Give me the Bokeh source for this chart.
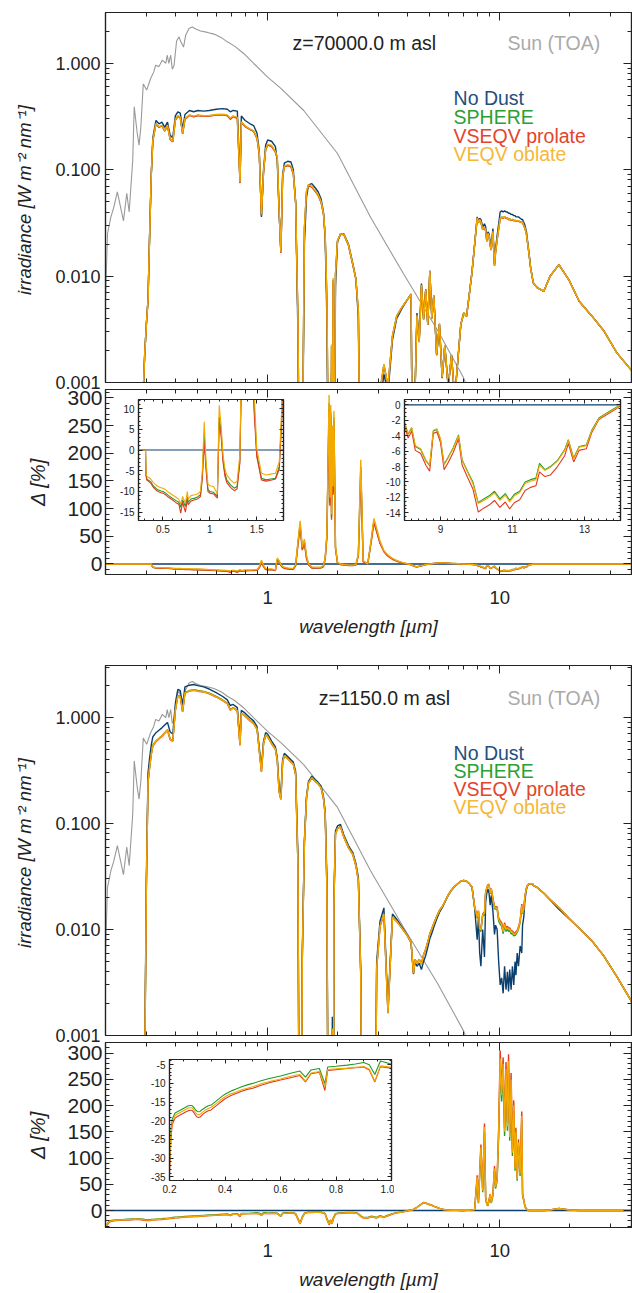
import numpy as np
from bokeh.plotting import figure
from bokeh.layouts import column
from bokeh.models import (FixedTicker, PrintfTickFormatter, CustomJSTickFormatter,
                          LinearAxis, LogAxis, Label, Range1d)
from bokeh.embed import file_html
from bokeh.resources import INLINE

# ---------------- data ----------------
wavelength_um = [
    0.200, 0.203, 0.206, 0.210, 0.220, 0.230, 0.240, 0.250, 0.260, 0.268,
    0.275, 0.280, 0.285, 0.290, 0.295, 0.300, 0.305, 0.310, 0.315, 0.320,
    0.330, 0.340, 0.350, 0.360, 0.370, 0.380, 0.390, 0.400, 0.410, 0.420,
    0.430, 0.440, 0.460, 0.480, 0.500, 0.530, 0.560, 0.600, 0.640, 0.670,
    0.690, 0.710, 0.740, 0.760, 0.770, 0.800, 0.840, 0.870, 0.900, 0.920,
    0.940, 0.960, 0.980, 1.000, 1.040, 1.080, 1.100, 1.120, 1.140, 1.160,
    1.180, 1.220, 1.260, 1.290, 1.320, 1.350, 1.380, 1.410, 1.440, 1.470,
    1.500, 1.550, 1.600, 1.650, 1.700, 1.740, 1.770, 1.800, 1.840, 1.855,
    1.870, 1.885, 1.900, 1.915, 1.930, 1.960, 2.000, 2.060, 2.130, 2.230,
    2.330, 2.400, 2.460, 2.520, 2.580, 2.700, 2.800, 2.870, 2.950, 3.050,
    3.170, 3.300, 3.450, 3.600, 3.800, 4.000, 4.150, 4.250, 4.320, 4.400,
    4.500, 4.600, 4.700, 4.800, 4.900, 5.000, 5.100, 5.200, 5.350, 5.500,
    5.650, 5.800, 6.000, 6.200, 6.400, 6.600, 6.800, 7.000, 7.200, 7.400,
    7.600, 7.800,
    8.000, 8.100, 8.200, 8.300, 8.450, 8.600, 8.700, 8.800, 8.900, 9.000,
    9.100, 9.200, 9.350, 9.500, 9.600, 9.750, 9.900, 10.05, 10.20, 10.35,
    10.50, 10.65, 10.80, 10.92, 11.05, 11.20, 11.35, 11.50, 11.65, 11.75,
    11.90, 12.05, 12.25, 12.45, 12.55, 12.70, 12.85, 13.05, 13.20, 13.40,
    13.60, 13.85, 14.00, 14.50, 15.50, 16.50, 18.00, 20.00, 22.00, 25.00,
    28.00, 32.00, 37.00]

sun_wl = [0.200, 0.204, 0.211, 0.217, 0.225, 0.232, 0.239, 0.247, 0.253, 0.262,
          0.266, 0.274, 0.279, 0.284, 0.291, 0.301, 0.313, 0.323, 0.329, 0.340,
          0.351, 0.364, 0.369, 0.375, 0.382, 0.388, 0.395, 0.405, 0.415, 0.422,
          0.434, 0.443, 0.458, 0.473, 0.490, 0.514, 0.550, 0.587, 0.630, 0.670,
          0.720, 0.790, 0.873, 1.000, 1.140, 1.430, 2.000, 2.780, 3.850, 5.400,
          7.000, 7.400]
sun_toa = [0.006, 0.025, 0.036, 0.044, 0.062, 0.045, 0.033, 0.060, 0.040, 0.122,
           0.39, 0.22, 0.17, 0.25, 0.64, 0.56, 0.72, 0.83, 0.96, 0.93,
           1.07, 1.00, 1.19, 1.00, 1.19, 0.88, 0.96, 1.62, 1.77, 1.60,
           1.42, 1.83, 2.12, 2.19, 2.10, 2.01, 1.95, 1.88, 1.75, 1.59,
           1.45, 1.23, 0.99, 0.74, 0.58, 0.36, 0.142, 0.0356, 0.0105, 0.0031,
           0.0011, 0.0008]

# z = 70000 m : No Dust irradiance [W m-2 nm-1]
nodust_70km = [
    1e-6, 1e-6, 1e-6, 1e-6, 1e-6, 1e-6, 1e-6, 1e-6, 1e-6, 1e-6,
    1e-6, 1e-6, 1e-5, 7e-4, 0.0018, 0.0035, 0.006, 0.025, 0.09, 0.20,
    0.29, 0.27, 0.28, 0.25, 0.28, 0.21, 0.20, 0.32, 0.35, 0.34,
    0.24, 0.33, 0.36, 0.35, 0.36, 0.355, 0.36, 0.37, 0.375, 0.37,
    0.35, 0.36, 0.355, 0.085, 0.32, 0.29, 0.27, 0.26, 0.22, 0.15,
    0.036, 0.10, 0.17, 0.19, 0.185, 0.165, 0.12, 0.04, 0.017, 0.09,
    0.115, 0.12, 0.118, 0.10, 0.05, 0.003, 1e-5, 1e-4, 0.02, 0.055,
    0.072, 0.074, 0.068, 0.062, 0.053, 0.04, 0.022, 0.004, 1e-5, 1e-5,
    1e-5, 0.0012, 1e-5, 0.004, 1e-5, 0.008, 0.021, 0.025, 0.025, 0.02,
    0.013, 0.0095, 0.004, 1e-5, 1e-6, 1e-6, 1e-6, 1e-6, 1e-6, 6e-4,
    0.0012, 8e-4, 0.0025, 0.004, 0.005, 0.006, 0.0068, 1e-5, 0.0009, 0.0045,
    0.0025, 0.0085, 0.004, 0.0075, 0.0035, 0.0112, 0.004, 0.0065, 0.0018, 0.0035,
    0.0011, 0.0022, 0.0009, 0.0018, 0.0007, 0.0016, 0.0035, 0.0045, 0.0042, 0.0068,
    0.011, 0.02,
    0.036, 0.033, 0.035, 0.034, 0.029, 0.031, 0.029, 0.022, 0.026, 0.025,
    0.021, 0.019, 0.028, 0.013, 0.018, 0.024, 0.031, 0.040, 0.041, 0.040,
    0.041, 0.040, 0.040, 0.039, 0.039, 0.038, 0.038, 0.037, 0.037, 0.036,
    0.036, 0.036, 0.035, 0.034, 0.034, 0.032, 0.030, 0.026, 0.021, 0.016,
    0.012, 0.0095, 0.0085, 0.0078, 0.0072, 0.0100, 0.0128, 0.0090, 0.0058, 0.0042,
    0.0031, 0.0019, 0.0013]

# z = 70000 m : relative difference to No Dust [%]
delta_sphere_70km = [
    0, 0, 0, 0, 0, 0, 0, 0, 0, 0,
    0, 0, 0, 0, 0, 0, 0, 0, 0, -6.0,
    -7.1, -7.2, -7.3, -7.5, -7.7, -8.0, -8.4, -8.7, -8.9, -9.1,
    -9.3, -9.5, -9.7, -9.9, -10.0, -10.4, -11.0, -11.6, -12.2, -12.6,
    -13.8, -12.0, -13.6, -11.2, -12.6, -11.8, -11.6, -11.3, -10.8, -6.2,
    4.0, -4.0, -9.5, -10.0, -10.2, -11.2, 8.0, 4.5, -2.0, -5.5,
    -7.2, -8.4, -9.2, -8.8, -2.5, 36, 72, 27, 40, 12,
    -1.0, -6.8, -7.2, -7.0, -6.8, -4.0, 10, 50, 290, 110,
    275, 85, 240, 130, 265, 30, 2, -0.5, -1.5, -2.5,
    -2.5, -1.5, 16, 175, 5, 0, 44, 78, 60, 39,
    23, 15, 9, 5.5, 2.5, 0.3, -1.2, -3.2, -4.2, -5.3,
    -4, -3, -2, -1, -0.5, 0, 0.5, 1, 1.5, 2,
    2, 2, 1.5, 1, 0.8, 0.5, 0.2, 0, -0.2, -0.5,
    -0.8, -1.2,
    -2.3, -3.8, -3.0, -5.4, -5.8, -7.3, -7.9, -3.4, -3.2, -4.5,
    -7.7, -6.9, -5.6, -3.9, -7.1, -8.6, -10.0, -12.7, -12.2, -11.8,
    -11.2, -12.2, -11.5, -12.4, -11.6, -11.2, -10.0, -9.7, -9.5, -7.6,
    -8.4, -8.0, -7.2, -5.8, -4.5, -6.9, -5.4, -5.2, -3.3, -1.7,
    -1.1, -0.4, 0, 0, 0, 0, 0, 0, 0, 0,
    0, 0, 0]
delta_prolate_70km = [
    0, 0, 0, 0, 0, 0, 0, 0, 0, 0,
    0, 0, 0, 0, 0, 0, 0, 0, 0, -6.2,
    -7.3, -7.4, -7.6, -7.8, -8.0, -8.3, -8.7, -9.0, -9.3, -9.5,
    -9.7, -9.9, -10.1, -10.3, -10.4, -10.8, -11.4, -12.0, -12.7, -13.1,
    -15.2, -12.6, -15.0, -12.0, -13.2, -12.3, -12.0, -11.8, -11.2, -7.0,
    2.0, -4.8, -10.0, -10.4, -10.6, -11.6, 6.8, 3.5, -2.8, -6.2,
    -7.8, -9.0, -9.8, -9.4, -3.2, 34, 68, 25, 38, 10,
    -1.6, -7.2, -7.5, -7.3, -7.0, -4.6, 9, 48, 280, 105,
    268, 80, 232, 125, 258, 28, 1.5, -1, -2, -3,
    -3, -2, 15, 168, 4, 0, 42, 75, 58, 37,
    22, 14, 8.5, 5, 2, 0, -1.5, -3.5, -4.5, -5.6,
    -4.3, -3.5, -2.3, -1.2, -0.7, -0.2, 0.3, 0.8, 1.3, 1.8,
    1.8, 1.8, 1.3, 0.8, 0.6, 0.3, 0, -0.2, -0.4, -0.7,
    -1.0, -1.5,
    -2.6, -4.3, -3.4, -5.9, -6.3, -7.9, -8.6, -3.7, -3.5, -4.9,
    -8.4, -7.6, -6.2, -4.4, -7.8, -9.4, -10.9, -13.9, -13.4, -13.0,
    -12.4, -13.3, -12.6, -13.5, -12.7, -12.3, -11.1, -10.7, -10.5, -8.7,
    -9.3, -9.1, -8.0, -6.6, -5.0, -7.4, -5.9, -5.7, -3.6, -1.9,
    -1.3, -0.6, -0.1, 0, 0, 0, 0, 0, 0, 0,
    0, 0, 0]
delta_oblate_70km = [
    0, 0, 0, 0, 0, 0, 0, 0, 0, 0,
    0, 0, 0, 0, 0, 0, 0, 0, 0, -5.5,
    -6.4, -6.5, -6.6, -6.8, -7.0, -7.3, -7.6, -7.9, -8.1, -8.3,
    -8.5, -8.7, -8.9, -9.1, -9.2, -9.6, -10.2, -10.8, -11.4, -11.9,
    -13.0, -11.2, -12.8, -10.0, -11.8, -11.0, -10.8, -10.6, -10.0, -5.0,
    6.8, -2.8, -8.2, -8.6, -8.8, -10.6, 10.8, 6.0, -1.0, -4.4,
    -6.0, -7.2, -8.0, -7.6, -1.2, 40, 78, 30, 45, 15,
    0.4, -5.6, -6.0, -5.8, -5.6, -2.8, 12, 55, 305, 120,
    287, 90, 250, 140, 276, 32, 3, 0, -1, -2,
    -2, -1, 18, 188, 6, 0, 47, 82, 64, 41,
    24, 16, 10, 6, 3, 0.5, -1, -3, -4, -5,
    -4, -3, -2, -1, -0.5, 0, 0.5, 1, 1.5, 2,
    2, 2, 1.5, 1, 0.8, 0.5, 0.2, 0, -0.2, -0.5,
    -0.8, -1.2,
    -2.2, -3.7, -2.9, -5.3, -5.7, -7.2, -7.8, -3.3, -3.1, -4.4,
    -7.8, -7.0, -5.7, -4.0, -7.2, -8.7, -10.2, -12.8, -12.4, -12.0,
    -11.4, -12.4, -11.7, -12.6, -11.8, -11.4, -10.2, -9.9, -9.7, -7.8,
    -8.5, -8.1, -7.3, -5.9, -4.6, -7.0, -5.5, -5.3, -3.4, -1.8,
    -1.2, -0.5, 0, 0, 0, 0, 0, 0, 0, 0,
    0, 0, 0]

# z = 1150 m : No Dust irradiance [W m-2 nm-1]
nodust_1150m = [
    1e-6, 1e-6, 1e-6, 1e-6, 1e-6, 1e-6, 1e-6, 1e-6, 1e-6, 1e-6,
    1e-6, 1e-6, 1e-6, 1e-5, 5e-4, 0.03, 0.30, 0.42, 0.55, 0.66,
    0.72, 0.76, 0.80, 0.85, 0.90, 0.73, 0.70, 1.35, 1.85, 1.80,
    1.30, 1.95, 2.02, 2.05, 2.00, 1.95, 1.86, 1.72, 1.58, 1.47,
    1.30, 1.33, 1.24, 0.62, 1.17, 1.10, 0.99, 0.93, 0.82, 0.52,
    0.34, 0.60, 0.72, 0.70, 0.60, 0.53, 0.42, 0.22, 0.19, 0.40,
    0.46, 0.43, 0.40, 0.38, 0.31, 0.05, 1e-6, 0.006, 0.07, 0.18,
    0.25, 0.28, 0.26, 0.245, 0.225, 0.18, 0.13, 0.03, 1e-6, 1e-6,
    1e-6, 1e-6, 0.0015, 1e-6, 0.02, 0.085, 0.095, 0.098, 0.078, 0.062,
    0.053, 0.042, 0.031, 0.004, 1e-6, 1e-6, 1e-6, 1e-6, 0.005, 0.012,
    0.016, 0.0018, 0.014, 0.0125, 0.0105, 0.0088, 0.0075, 0.0038, 0.005, 0.0045,
    0.0048, 0.0042, 0.005, 0.0057, 0.0068, 0.0082, 0.0092, 0.0105, 0.0125, 0.0145,
    0.016, 0.018, 0.021, 0.0235, 0.0255, 0.027, 0.0285, 0.029, 0.0285, 0.027,
    0.025, 0.016,
    0.008, 0.013, 0.006, 0.0045, 0.010, 0.0055, 0.018, 0.022, 0.024, 0.022,
    0.017, 0.021, 0.015, 0.009, 0.011, 0.010, 0.005, 0.003, 0.0035, 0.0025,
    0.0045, 0.0027, 0.0040, 0.0026, 0.0042, 0.0027, 0.0045, 0.0030, 0.0050, 0.0037,
    0.0060, 0.0045, 0.0070, 0.0060, 0.011, 0.013, 0.019, 0.024, 0.026, 0.027,
    0.027, 0.027, 0.026, 0.025, 0.022, 0.019, 0.0155, 0.0125, 0.0103, 0.0078,
    0.0057, 0.0036, 0.0021]

delta_sphere_1150m = [
    -31.4, -26.0, -22.0, -19.5, -17.9, -17.5, -17.1, -16.7, -16.3, -16.0,
    -15.9, -15.9, -16.2, -16.7, -17.2, -17.5, -17.6, -17.5, -17.2, -16.9,
    -16.4, -16.0, -15.8, -15.2, -14.6, -14.0, -13.4, -12.9, -12.5, -12.1,
    -11.8, -11.5, -10.9, -10.4, -10.0, -9.3, -8.7, -8.0, -7.2, -6.7,
    -8.3, -6.4, -6.0, -10.1, -5.6, -5.4, -5.1, -4.8, -4.4, -5.0,
    -7.6, -4.0, -4.4, -4.9, -4.7, -4.5, -5.0, -8.0, -10.0, -5.0,
    -4.3, -4.2, -4.0, -4.0, -6.0, -15, -24, -12, -5.0, -3.5,
    -3.0, -3.0, -2.8, -2.7, -3.0, -4.0, -6.0, -15, -25, -20,
    -18, -24, -22, -15, -12, -6.0, -5.0, -4.5, -4.0, -3.8,
    -3.6, -4.0, -6.0, -10, -13, -13, -11, -12, -13, -10,
    -12, -9, -6, -4, -2.5, -0.5, 1, 2, 4, 6,
    9, 12, 15, 14, 12, 11, 10, 8, 6, 4,
    2.5, 1.5, 1, 0.5, 0.3, 0.2, 0.1, 0, 0.2, 0.5,
    1, 2,
    60, 14, 66, 112, 35, 150, 23, 11, 9, 19,
    28, 14, 28, 75, 42, 56, 140, 275, 208, 265,
    142, 255, 152, 270, 133, 237, 104, 190, 76, 142,
    57, 123, 66, 171, 28, 19, 7.5, 2.8, 1, 0,
    0, 0, 0, 0, 0, 1, 4, 1, 0, 0,
    0, 0, 0]
delta_prolate_1150m = [
    -34.1, -28.5, -24.0, -21.0, -19.3, -18.8, -18.4, -18.0, -17.6, -17.3,
    -17.2, -17.2, -17.5, -18.1, -18.6, -19.0, -19.1, -19.0, -18.7, -18.3,
    -17.7, -17.3, -17.1, -16.5, -15.9, -15.3, -14.7, -14.1, -13.7, -13.3,
    -13.0, -12.7, -12.1, -11.6, -11.3, -10.5, -9.8, -9.1, -8.4, -7.9,
    -9.6, -7.4, -7.0, -11.9, -6.5, -6.3, -6.0, -5.8, -5.6, -6.4,
    -9.6, -5.5, -5.7, -5.9, -5.6, -5.4, -5.9, -9.1, -11.3, -5.9,
    -5.1, -5.0, -4.8, -4.8, -7.0, -16.5, -25.5, -13.5, -5.8, -4.2,
    -3.7, -3.7, -3.5, -3.4, -3.7, -4.8, -6.9, -16.5, -27, -22,
    -19.5, -25.5, -23.5, -16.5, -13.5, -6.9, -5.7, -5.2, -4.7, -4.5,
    -4.3, -4.7, -6.9, -11.2, -14.2, -14.2, -12.2, -13.2, -14.2, -11.2,
    -13.2, -10, -6.8, -4.6, -3.0, -0.8, 1, 2, 4.1, 6.2,
    9.3, 12.5, 15.5, 14.5, 12.4, 11.5, 10.3, 8.3, 6.2, 4.2,
    2.6, 1.6, 1, 0.5, 0.3, 0.2, 0.1, 0, 0.2, 0.5,
    1, 2.2,
    67, 16, 74, 126, 40, 166, 26, 13, 11, 21,
    31, 16, 32, 85, 48, 64, 158, 305, 232, 292,
    158, 283, 168, 298, 147, 262, 116, 210, 84, 158,
    63, 136, 73, 189, 32, 21, 8.5, 3.2, 1, 0,
    0, 0, 0, 0, 0, 1, 4, 1, 0, 0,
    0, 0, 0]
delta_oblate_1150m = [
    -32.5, -27.0, -23.0, -20.3, -18.6, -18.1, -17.7, -17.3, -16.9, -16.6,
    -16.5, -16.5, -16.8, -17.4, -17.9, -18.3, -18.4, -18.3, -18.0, -17.7,
    -17.1, -16.7, -16.4, -15.9, -15.3, -14.7, -14.1, -13.6, -13.2, -12.8,
    -12.6, -12.3, -11.7, -11.3, -10.9, -10.1, -9.5, -8.8, -8.0, -7.6,
    -9.4, -7.2, -6.8, -11.0, -6.3, -6.1, -5.9, -5.7, -5.5, -6.2,
    -9.4, -5.3, -5.5, -5.7, -5.4, -5.2, -5.7, -8.8, -10.9, -5.7,
    -4.9, -4.8, -4.6, -4.6, -6.7, -16, -25, -13, -5.6, -4.0,
    -3.5, -3.5, -3.3, -3.2, -3.5, -4.6, -6.6, -16, -26, -21,
    -19, -25, -23, -16, -13, -6.6, -5.5, -5.0, -4.5, -4.3,
    -4.1, -4.5, -6.6, -10.8, -13.8, -13.8, -11.8, -12.8, -13.8, -10.8,
    -12.8, -9.6, -6.5, -4.4, -2.8, -0.7, 1, 2, 4, 6,
    9, 12, 15, 14, 12, 11, 10, 8, 6, 4,
    2.5, 1.5, 1, 0.5, 0.3, 0.2, 0.1, 0, 0.2, 0.5,
    1, 2,
    64, 15, 70, 120, 38, 159, 25, 12, 10, 20,
    30, 15, 30, 80, 45, 60, 150, 290, 220, 280,
    150, 270, 160, 285, 140, 250, 110, 200, 80, 150,
    60, 130, 70, 180, 30, 20, 8, 3, 1, 0,
    0, 0, 0, 0, 0, 1, 4, 1, 0, 0,
    0, 0, 0]

series_names = ["No Dust", "SPHERE", "VSEQV prolate", "VEQV oblate"]
x_major = [1.0, 10.0]
x_minor = [0.2, 0.3, 0.4, 0.5, 0.6, 0.7, 0.8, 0.9, 2, 3, 4, 5, 6, 7, 8, 9, 20, 30]

# ---------------- checks / derived ----------------
_arrs = [nodust_70km, delta_sphere_70km, delta_prolate_70km, delta_oblate_70km,
         nodust_1150m, delta_sphere_1150m, delta_prolate_1150m, delta_oblate_1150m]
for _a in _arrs:
    if len(_a) != len(wavelength_um):
        raise ValueError("length mismatch %d vs %d" % (len(_a), len(wavelength_um)))

WL = np.array(wavelength_um)
def build(nd, ds, dp, do):
    nd = np.array(nd, dtype=float)
    ds = np.array(ds, dtype=float); dp = np.array(dp, dtype=float); do = np.array(do, dtype=float)
    dnd = 100.0 * (nd / nd - 1.0)
    return dict(nd=nd, sp=nd * (1 + ds / 100), pr=nd * (1 + dp / 100), ob=nd * (1 + do / 100),
                dnd=dnd, dsp=ds, dpr=dp, dob=do)

D70 = build(nodust_70km, delta_sphere_70km, delta_prolate_70km, delta_oblate_70km)
D1150 = build(nodust_1150m, delta_sphere_1150m, delta_prolate_1150m, delta_oblate_1150m)

# ---------------- style ----------------
FONT = "Liberation Sans"
INK = "#222222"
C_ND, C_SP, C_PR, C_OB, C_SUN = "#0b3f6e", "#1f9a2a", "#e2381e", "#f2a900", "#999999"
COLS = [C_ND, C_SP, C_PR, C_OB]
TXT_COLS = ["#234f7c", "#2ca033", "#e2452c", "#f4b83a"]
TXT = "19.5px"


def style_axis(ax, tin, minin, fsize, labels=True, standoff=4):
    ax.axis_line_color = INK
    ax.axis_line_width = 1.2
    ax.major_tick_line_color = INK
    ax.minor_tick_line_color = INK
    ax.major_tick_in = tin
    ax.major_tick_out = 0
    ax.minor_tick_in = minin
    ax.minor_tick_out = 0
    ax.major_label_text_font = FONT
    ax.major_label_text_color = INK
    if labels:
        ax.major_label_text_font_size = fsize
        ax.major_label_standoff = standoff
    else:
        ax.major_label_text_font_size = "1px"
        ax.major_label_text_alpha = 0.0
        ax.major_label_standoff = 0


def place(p, left, top, z):
    try:
        p.frame_align = False
    except Exception:
        pass
    p.styles = {"position": "absolute", "left": "%dpx" % left, "top": "%dpx" % top,
                "z-index": str(z)}


def new_fig(w, h, xr, yr, xlog, ylog, mb):
    p = figure(width=w, height=h, x_range=Range1d(*xr), y_range=Range1d(*yr),
               x_axis_type="log" if xlog else "linear",
               y_axis_type="log" if ylog else "linear",
               toolbar_location=None, output_backend="svg",
               min_border_left=mb[0], min_border_right=mb[1],
               min_border_top=mb[2], min_border_bottom=mb[3])
    p.grid.visible = False
    p.outline_line_color = INK
    p.outline_line_width = 1.2
    p.background_fill_color = "white"
    p.border_fill_alpha = 0.0
    return p


def mirror(p, xt, xm, yt, ym, xlog, ylog, tin, minin):
    top = (LogAxis if xlog else LinearAxis)(ticker=FixedTicker(ticks=xt, minor_ticks=xm))
    style_axis(top, tin, minin, "1px", labels=False)
    p.add_layout(top, "above")
    right = (LogAxis if ylog else LinearAxis)(ticker=FixedTicker(ticks=yt, minor_ticks=ym))
    style_axis(right, tin, minin, "1px", labels=False)
    p.add_layout(right, "right")


irr_major = [0.001, 0.01, 0.1, 1.0]
irr_minor = [k * 10.0 ** e for e in (-3, -2, -1) for k in range(2, 10)] + [2.0, 3.0]


def irr_panel(height, mbt, yr, D, ztext, xz, ytxt, yleg):
    p = new_fig(632, height, (0.2, 37.0), yr, True, True, (105, 1, mbt, 13))
    xa = p.xaxis[0]
    xa.ticker = FixedTicker(ticks=x_major, minor_ticks=x_minor)
    style_axis(xa, 8, 4, "1px", labels=False)
    ya = p.yaxis[0]
    ya.ticker = FixedTicker(ticks=irr_major, minor_ticks=irr_minor)
    ya.formatter = PrintfTickFormatter(format="%.3f")
    style_axis(ya, 8, 4, "18px", True, 5)
    ya.axis_label = "irradiance  [W m\u207b\u00b2 nm\u207b\u00b9]"
    ya.axis_label_text_font = FONT
    ya.axis_label_text_font_style = "italic"
    ya.axis_label_text_font_size = "18.5px"
    ya.axis_label_text_color = INK
    ya.axis_label_standoff = 17
    mirror(p, x_major, x_minor, irr_major, irr_minor, True, True, 8, 4)

    p.line(sun_wl, sun_toa, line_color=C_SUN, line_width=1.1)
    for key, c in zip(["nd", "sp", "pr", "ob"], COLS):
        p.line(WL, D[key], line_color=c, line_width=1.4)

    p.add_layout(Label(x=xz, y=ytxt, text=ztext, text_font=FONT, text_font_size=TXT,
                       text_color=INK, text_baseline="middle"))
    p.add_layout(Label(x=10.8, y=ytxt, text="Sun (TOA)", text_font=FONT, text_font_size=TXT,
                       text_color="#aaaaaa", text_baseline="middle"))
    for name, c, yy in zip(series_names, TXT_COLS, yleg):
        p.add_layout(Label(x=6.33, y=yy, text=name, text_font=FONT, text_font_size=TXT,
                           text_color=c, text_baseline="middle"))
    return p


d_major = [0, 50, 100, 150, 200, 250, 300]
d_minor = [v for v in range(-30, 321, 10) if v % 50 != 0]


def delta_panel(height, mbt, mbb, yr, D):
    p = new_fig(632, height, (0.2, 37.0), yr, True, False, (105, 1, mbt, mbb))
    xa = p.xaxis[0]
    xa.ticker = FixedTicker(ticks=x_major, minor_ticks=x_minor)
    xa.formatter = PrintfTickFormatter(format="%.0f")
    style_axis(xa, 8, 4, "18.5px", True, 16)
    xa.axis_label = "wavelength [\u00b5m]"
    xa.axis_label_text_font = FONT
    xa.axis_label_text_font_style = "italic"
    xa.axis_label_text_font_size = "19px"
    xa.axis_label_text_color = INK
    xa.axis_label_standoff = 9
    ya = p.yaxis[0]
    ya.ticker = FixedTicker(ticks=d_major, minor_ticks=d_minor)
    ya.formatter = PrintfTickFormatter(format="%d")
    style_axis(ya, 8, 4, "21px", True, 3)
    ya.axis_label = "\u0394 [%]"
    ya.axis_label_text_font = FONT
    ya.axis_label_text_font_style = "italic"
    ya.axis_label_text_font_size = "20px"
    ya.axis_label_text_color = INK
    ya.axis_label_standoff = 15
    mirror(p, x_major, x_minor, d_major, d_minor, True, False, 8, 4)
    for key, c in zip(["dnd", "dsp", "dpr", "dob"], COLS):
        p.line(WL, D[key], line_color=c, line_width=1.4)
    return p


def inset(w, h, xr, yr, mb, xt, xm, yt, ym, xfmt, yfmt, D):
    p = new_fig(w, h, xr, yr, False, False, mb)
    xa = p.xaxis[0]
    xa.ticker = FixedTicker(ticks=xt, minor_ticks=xm)
    xa.formatter = xfmt
    style_axis(xa, 4, 2, "10px", True, 4)
    ya = p.yaxis[0]
    ya.ticker = FixedTicker(ticks=yt, minor_ticks=ym)
    ya.formatter = yfmt
    style_axis(ya, 4, 2, "10px", True, 4)
    mirror(p, xt, xm, yt, ym, False, False, 4, 2)
    for key, c in zip(["dnd", "dsp", "dpr", "dob"], COLS):
        p.line(WL, D[key], line_color=c, line_width=1.1)
    return p


A = irr_panel(395, 12, (0.001, 3.0), D70, "z=70000.0 m asl", 1.28, 1.54, [0.469, 0.311, 0.206, 0.139])
B = delta_panel(260, 4, 71, (-19.0, 315.0), D70)
C = irr_panel(403, 20, (0.001, 3.1), D1150, "z=1150.0 m asl", 1.66, 1.545, [0.467, 0.316, 0.214, 0.142])
D = delta_panel(255, 4, 66, (-32.4, 320.4), D1150)

E = inset(172, 141, (0.24, 1.785), (-17.0, 12.2), (24, 3, 2, 18),
          [0.5, 1.0, 1.5], [round(0.1 * k, 2) for k in range(3, 18) if k not in (5, 10, 15)],
          [-15, -10, -5, 0, 5, 10], [v for v in range(-17, 13) if v % 5 != 0],
          CustomJSTickFormatter(code="return tick.toString();"), PrintfTickFormatter(format="%d"),
          D70)
F = inset(241, 141, (8.0, 14.0), (-15.0, 0.7), (22, 3, 2, 18),
          [9, 11, 13], [round(8 + 0.2 * k, 2) for k in range(0, 31) if round(8 + 0.2 * k, 2) not in (9.0, 11.0, 13.0)],
          [0, -2, -4, -6, -8, -10, -12, -14], [v * 0.5 for v in range(-30, 2) if v % 4 != 0],
          PrintfTickFormatter(format="%d"), PrintfTickFormatter(format="%d"),
          D70)
G = inset(249, 141, (0.2, 1.0), (-36.0, -3.6), (24, 3, 2, 18),
          [0.2, 0.4, 0.6, 0.8, 1.0], [round(0.2 + 0.05 * k, 2) for k in range(0, 17) if k % 4 != 0],
          [-35, -30, -25, -20, -15, -10, -5], [v for v in range(-36, -3) if v % 5 != 0],
          PrintfTickFormatter(format="%.1f"), PrintfTickFormatter(format="%d"),
          D1150)

place(A, 0, 0, 1)
place(B, 0, 385, 2)
place(C, 0, 645, 3)
place(D, 0, 1038, 4)
place(E, 114, 397, 5)
place(F, 382, 397, 6)
place(G, 145, 1057, 7)

p = column(A, B, C, D, E, F, G, spacing=0, width=632, height=1293)
open("out.html", "w").write(file_html(p, INLINE))
